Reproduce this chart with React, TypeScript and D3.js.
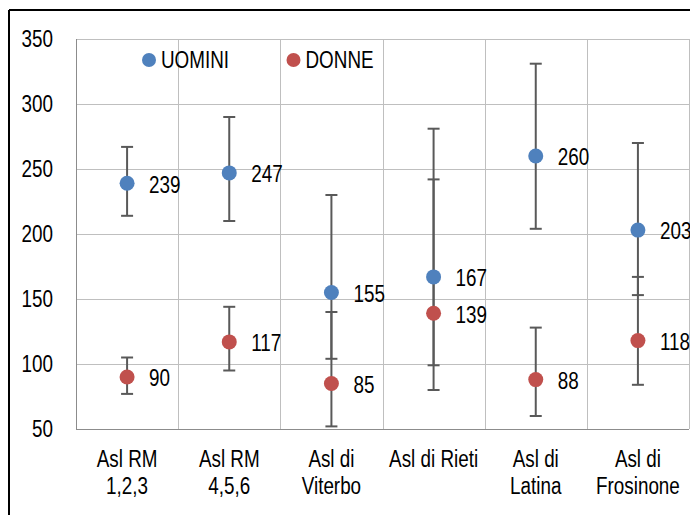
import React from "react";
import * as d3 from "d3";

const categories = [
  ["Asl RM", "1,2,3"],
  ["Asl RM", "4,5,6"],
  ["Asl di", "Viterbo"],
  ["Asl di Rieti"],
  ["Asl di", "Latina"],
  ["Asl di", "Frosinone"],
];
const uomini = [239, 247, 155, 167, 260, 203];
const uominiLow = [214, 210, 104, 99, 204, 153];
const uominiHigh = [267, 290, 230, 281, 331, 270];
const donne = [90, 117, 85, 139, 88, 118];
const donneLow = [77, 95, 52, 80, 60, 84];
const donneHigh = [105, 144, 140, 242, 128, 167];
const yTicks = [50, 100, 150, 200, 250, 300, 350];

const BLUE = "#4F81BD";
const RED = "#C0504D";
const FONT = "'Liberation Sans', Arial, sans-serif";
const FS = 23;

const margin = { top: 39, right: 1, bottom: 86, left: 76 };
const W = 690;
const H = 515;

// narrow text: Liberation Sans squeezed horizontally, like Arial Narrow
const NText = ({
  x,
  y,
  anchor = "start",
  children,
}: {
  x: number;
  y: number;
  anchor?: "start" | "middle" | "end";
  children: React.ReactNode;
}) => (
  <text
    transform={`translate(${x},${y}) scale(0.82,1)`}
    textAnchor={anchor}
    dominantBaseline="central"
    fontSize={FS}
    fill="#000"
  >
    {children}
  </text>
);

export default function App() {
  const width = W - margin.left - margin.right;
  const height = H - margin.top - margin.bottom;

  const x = d3
    .scaleBand<number>()
    .domain(d3.range(categories.length))
    .range([0, width]);
  const y = d3.scaleLinear().domain([50, 350]).range([height, 0]);
  const cx = (i: number) => (x(i) ?? 0) + x.bandwidth() / 2;

  const series = [
    { name: "UOMINI", color: BLUE, values: uomini, lo: uominiLow, hi: uominiHigh },
    { name: "DONNE", color: RED, values: donne, lo: donneLow, hi: donneHigh },
  ];

  return (
    <svg
      width={W}
      height={H}
      style={{ position: "absolute", left: 0, top: 0, background: "#fff" }}
      fontFamily={FONT}
    >
      {/* outer frame */}
      <line x1={9} y1={10} x2={W} y2={10} stroke="#000" strokeWidth={2} />
      <line x1={9} y1={10} x2={9} y2={H} stroke="#000" strokeWidth={2} />

      <g transform={`translate(${margin.left},${margin.top})`}>
        {/* horizontal grid */}
        {yTicks.map((t) => (
          <line
            key={"h" + t}
            x1={0}
            x2={width}
            y1={Math.round(y(t)) + 0.5}
            y2={Math.round(y(t)) + 0.5}
            stroke="#BFBFBF"
            strokeWidth={1}
          />
        ))}
        {/* vertical grid */}
        {d3.range(categories.length + 1).map((i) => {
          const xx = i < categories.length ? x(i) ?? 0 : width;
          return (
            <line
              key={"v" + i}
              x1={Math.round(xx) + 0.5}
              x2={Math.round(xx) + 0.5}
              y1={0}
              y2={height}
              stroke="#BFBFBF"
              strokeWidth={1}
            />
          );
        })}
        {/* axes */}
        <line x1={0.5} x2={0.5} y1={0} y2={height} stroke="#8C8C8C" />
        <line x1={0} x2={width} y1={height + 0.5} y2={height + 0.5} stroke="#8C8C8C" />

        {/* y tick labels */}
        {yTicks.map((t) => (
          <NText key={"yt" + t} x={-23} y={y(t)} anchor="end">
            {t}
          </NText>
        ))}

        {/* category labels */}
        {categories.map((lines, i) =>
          lines.map((l, j) => (
            <NText key={"c" + i + j} x={cx(i)} y={height + 30 + j * 27} anchor="middle">
              {l}
            </NText>
          ))
        )}

        {/* error bars */}
        {series.map((s) =>
          s.values.map((_, i) => (
            <g key={s.name + "e" + i} stroke="#595959" strokeWidth={2}>
              <line x1={cx(i)} x2={cx(i)} y1={y(s.lo[i])} y2={y(s.hi[i])} />
              <line x1={cx(i) - 6} x2={cx(i) + 6} y1={y(s.lo[i])} y2={y(s.lo[i])} />
              <line x1={cx(i) - 6} x2={cx(i) + 6} y1={y(s.hi[i])} y2={y(s.hi[i])} />
            </g>
          ))
        )}

        {/* points and labels */}
        {series.map((s) =>
          s.values.map((v, i) => (
            <g key={s.name + "p" + i}>
              <circle cx={cx(i)} cy={y(v)} r={7.5} fill={s.color} />
              <NText x={cx(i) + 22} y={y(v) + 1}>
                {v}
              </NText>
            </g>
          ))
        )}
      </g>

      {/* legend */}
      <g>
        <circle cx={149} cy={60} r={7} fill={BLUE} />
        <NText x={161} y={60}>
          UOMINI
        </NText>
        <circle cx={293.5} cy={60} r={7} fill={RED} />
        <NText x={305.5} y={60}>
          DONNE
        </NText>
      </g>
    </svg>
  );
}
